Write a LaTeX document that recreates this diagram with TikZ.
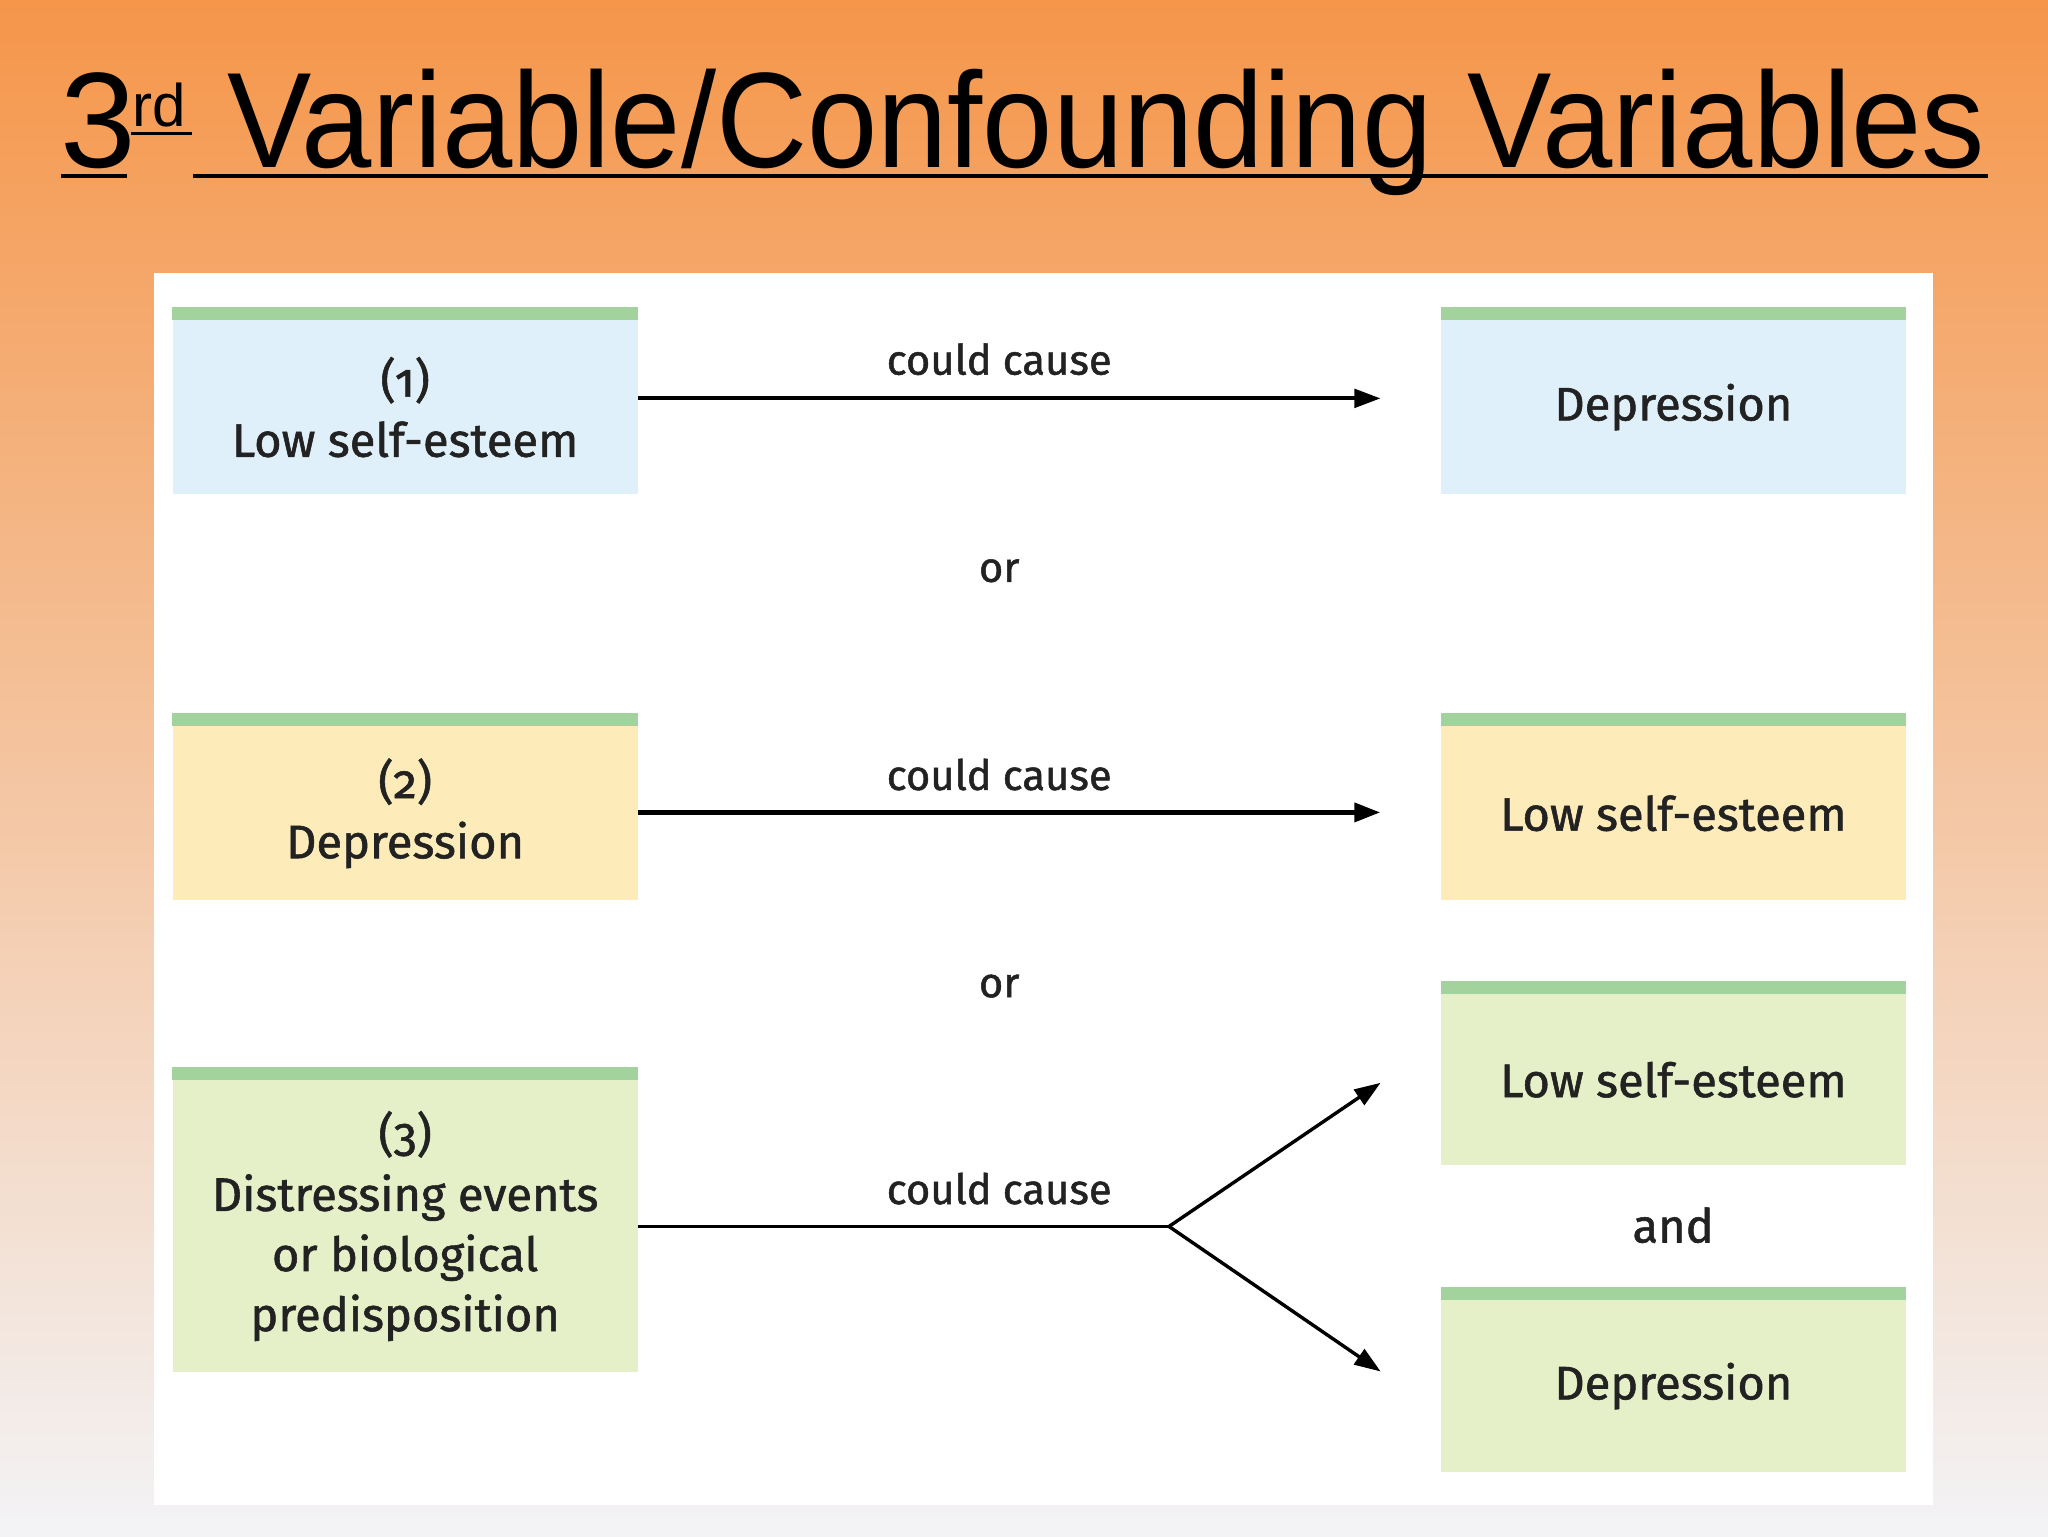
\documentclass[tikz,border=0pt]{standalone}
\usepackage{fontspec}
\setmainfont{Fira Sans}[FakeBold=1.2]
\newfontfamily\titlefont{Liberation Sans}
\newfontfamily\oldnum[Numbers=OldStyle,FakeBold=1.2]{Fira Sans}
\usetikzlibrary{arrows.meta}
\definecolor{bgtop}{HTML}{F5964A}
\definecolor{bgbot}{HTML}{F3F3F6}
\definecolor{barg}{HTML}{A3D39C}
\definecolor{cblue}{HTML}{DFF0FA}
\definecolor{cyel}{HTML}{FDEBBA}
\definecolor{cgreen}{HTML}{E6F0C8}
\definecolor{txt}{HTML}{222222}
\tikzset{
  box/.style={fill=#1, minimum width=356pt, inner sep=0pt, align=center, text=txt,
    font=\fontsize{36}{46}\selectfont, anchor=north west},
  lab/.style={text=txt, font=\fontsize{32}{38}\selectfont},
  arr/.style={line width=3.2pt, -{Triangle[length=20pt,width=14pt]}},
  ttl/.style={inner sep=0pt, text=black, anchor=base west}
}
\newcommand{\gbar}[1]{\fill[barg] ([yshift=10pt]#1.north west) rectangle (#1.north east);}
\begin{document}
\begin{tikzpicture}[x=1pt,y=-1pt]
\shade[top color=bgtop, bottom color=bgbot] (0,0) rectangle (1568,1176);
\useasboundingbox (0,0) rectangle (1568,1176);
\fill[white] (118,209) rectangle (1480,1152);
\node[ttl, font=\titlefont\fontsize{104}{110}\selectfont] (t3) at (46,128) {3};
\node[ttl, font=\titlefont\fontsize{46}{50}\selectfont] (trd) at (101,97) {rd};
\node[ttl, font=\titlefont\fontsize{104}{110}\selectfont, xscale=0.93, anchor=base east] (tmain) at (1520,128) {Variable/Confounding Variables};
\draw[line width=3pt] (47,135) -- (97,135);
\draw[line width=2.5pt] (100,102) -- (147,102);
\draw[line width=3pt] (148,135) -- (1522,135);
% left boxes
\node[box=cblue, minimum height=133pt] (l1) at (132,245) {{\oldnum(1)}\\Low self-esteem};
\node[box=cyel, minimum height=133pt] (l2) at (132,556) {{\oldnum(2)}\\Depression};
\node[box=cgreen, minimum height=223pt] (l3) at (132,827) {{\oldnum(3)}\\Distressing events\\or biological\\predisposition};
% right boxes
\node[box=cblue, minimum height=133pt] (r1) at (1103,245) {Depression};
\node[box=cyel, minimum height=133pt] (r2) at (1103,556) {Low self-esteem};
\node[box=cgreen, minimum height=131pt] (r3) at (1103,761) {Low self-esteem};
\node[box=cgreen, minimum height=132pt] (r4) at (1103,995) {Depression};
\gbar{l1}\gbar{l2}\gbar{l3}\gbar{r1}\gbar{r2}\gbar{r3}\gbar{r4}
% arrows
\coordinate (e1) at (1057,305);
\coordinate (e2) at (1057,622);
\coordinate (fork) at (895,939);
\coordinate (e3) at (1057,829);
\coordinate (e4) at (1057,1050);
\draw[arr] (l1.east |- e1) -- (e1);
\draw[arr, line width=4.2pt] (l2.east |- e2) -- (e2);
\draw[line width=3pt] (l3.east |- fork) -- (fork);
\draw[arr, line width=2.6pt] (fork) -- (e3);
\draw[arr, line width=2.6pt] (fork) -- (e4);
% labels
\node[lab] (c1) at (765,275) {could cause};
\node[lab] (c2) at (765,593) {could cause};
\node[lab] (c3) at (765,910) {could cause};
\node[lab] (or1) at (765,437) {or};
\node[lab] (or2) at (765,755) {or};
\node[lab, font=\fontsize{36}{40}\selectfont] (and) at (1281,938) {and};
\end{tikzpicture}
\end{document}
